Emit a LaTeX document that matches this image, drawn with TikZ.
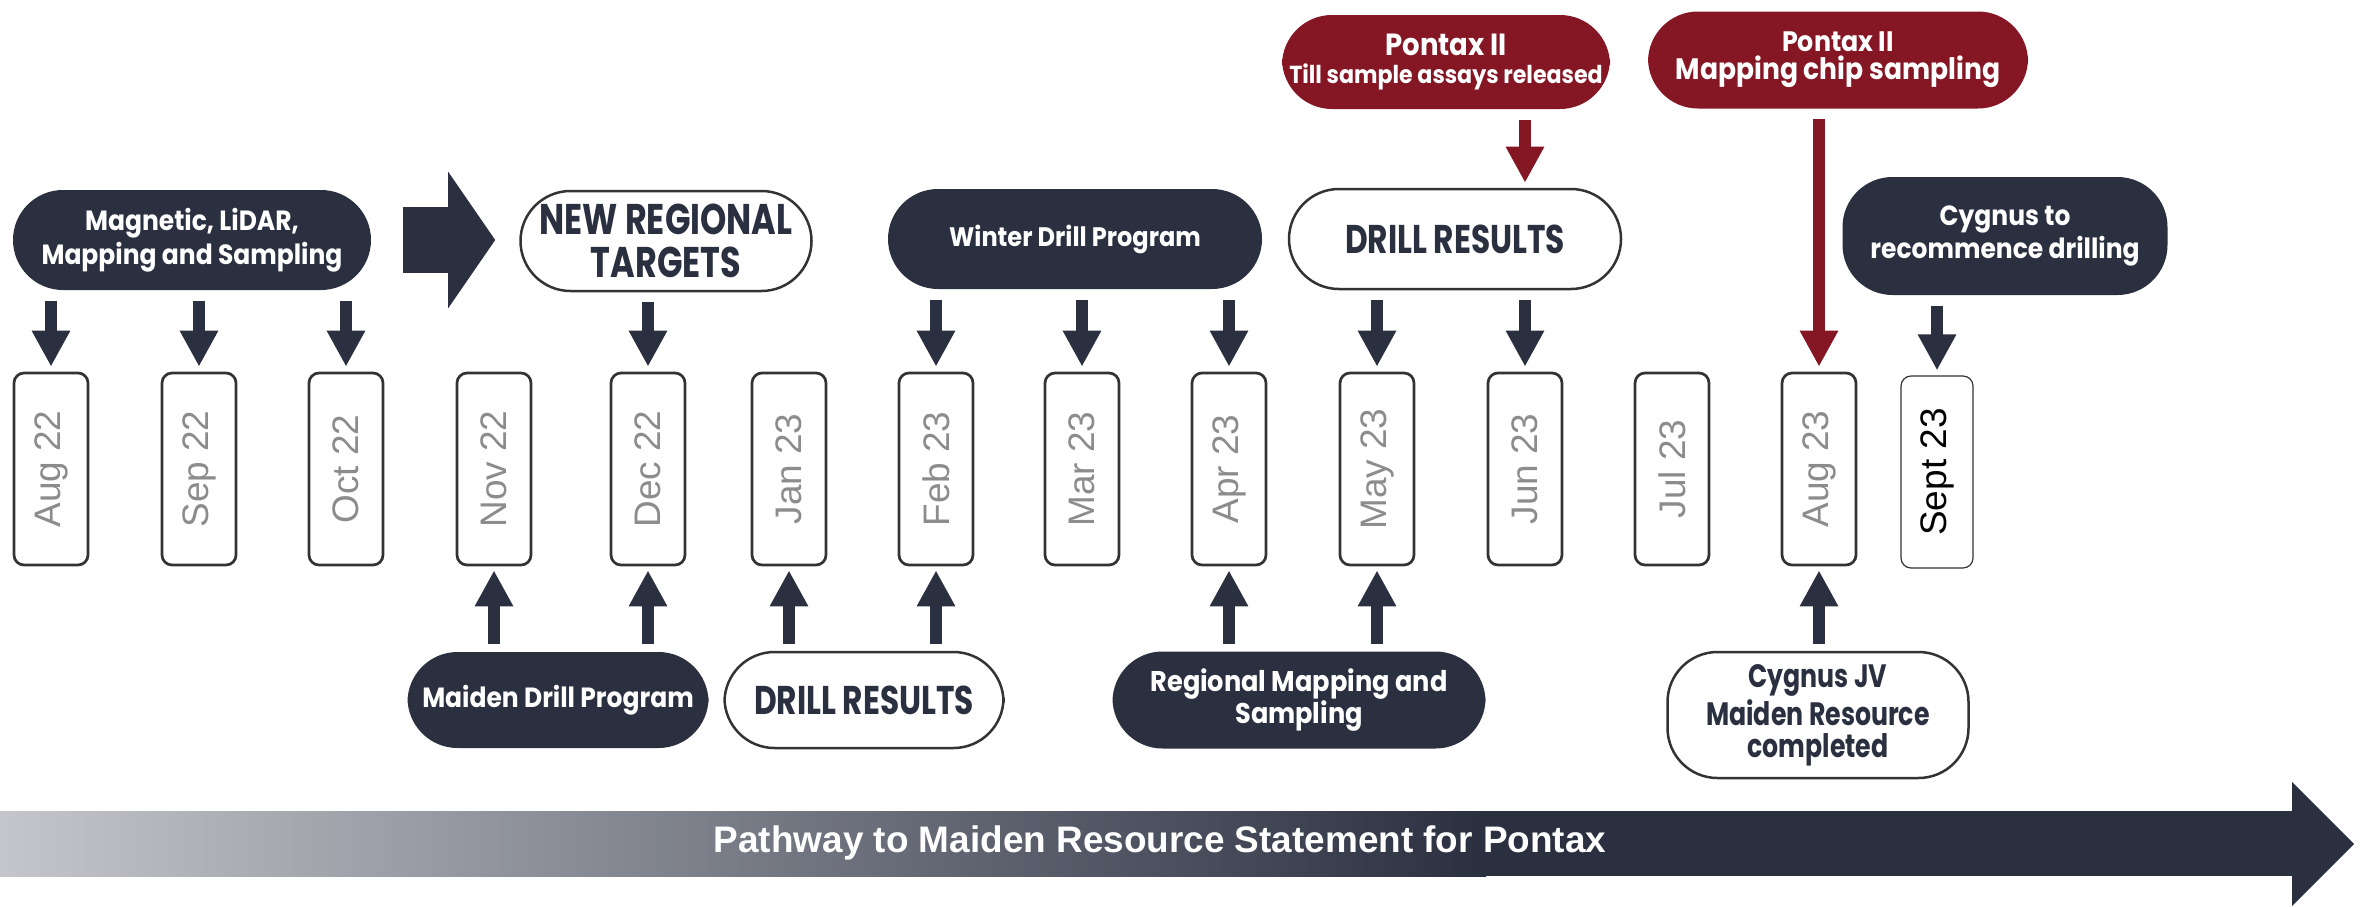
\documentclass[tikz,border=0pt]{standalone}
\usepackage{fontspec}
\usepackage{graphicx}
\usetikzlibrary{arrows.meta}
\setmainfont{Liberation Sans}
\newfontfamily\pillfont[FakeStretch=0.9]{Poppins}
\newfontfamily\capsfont[FakeStretch=0.78]{Poppins}
\definecolor{navy}{HTML}{2B3041}
\definecolor{wine}{HTML}{851624}
\definecolor{monthgray}{HTML}{8C8C8C}
\definecolor{edgegray}{HTML}{333333}
\definecolor{pathlight}{HTML}{C4C6CB}
\newlength\pxu
\setlength\pxu{0.01cm}

\tikzset{
  monthbox/.style={draw=edgegray, line width=2.7\pxu, rounded corners=10\pxu, fill=white,
    minimum width=74\pxu, minimum height=192\pxu, inner sep=0pt, text=monthgray,
    font=\fontsize{10.5}{12}\selectfont},
  pill/.style={rounded corners=50\pxu, inner sep=0pt, align=center},
  darkpill/.style={pill, fill=navy, text=white, font=\pillfont\bfseries\fontsize{7.9}{9.3}\selectfont},
  redpill/.style={pill, fill=wine, text=white, font=\pillfont\bfseries\fontsize{7}{8}\selectfont},
  whitepill/.style={pill, draw=edgegray, line width=2.5\pxu, fill=white, text=navy,
    font=\capsfont\bfseries\fontsize{11.4}{12.5}\selectfont},
  downarr/.style={draw=navy, line width=12\pxu, -{Triangle[length=0.36cm, width=0.36cm]},
    shorten <=10\pxu, shorten >=5\pxu},
  redarr/.style={downarr, draw=wine},
  uparr/.style={downarr, shorten <=7\pxu, shorten >=4\pxu},
  bigarr/.style={draw=navy, line width=66\pxu, -{Triangle[length=0.47cm, width=1.34cm]},
    shorten <=31\pxu, shorten >=24\pxu},
  pathtext/.style={text=white, font=\bfseries\fontsize{10.5}{12}\selectfont, inner sep=0pt}
}

\begin{document}
\begin{tikzpicture}[x=\pxu, y=-\pxu]
\useasboundingbox (0,0) rectangle (2376,906);

% months
\foreach \nm/\xx/\lbl in {aug22/51/Aug 22, sep22/199/Sep 22, oct22/346/Oct 22,
    nov22/494/Nov 22, dec22/648/Dec 22, jan23/789/Jan 23, feb23/936/Feb 23,
    mar23/1082/Mar 23, apr23/1229/Apr 23, may23/1377/May 23, jun23/1525/Jun 23,
    jul23/1672/Jul 23, aug23/1819/Aug 23}
  \node[monthbox] (\nm) at (\xx,469) {\rotatebox{90}{\lbl}};
\node[monthbox, line width=1.2\pxu, text=black, minimum width=72\pxu] (sept23) at (1937,472) {\rotatebox{90}{Sept 23}};

% top row
\node[darkpill, minimum width=358\pxu, minimum height=100\pxu,
  font=\pillfont\bfseries\fontsize{7.9}{9.6}\selectfont] (mag) at (192,240)
  {Magnetic, LiDAR,\\Mapping and Sampling};
\node[whitepill, minimum width=291\pxu, minimum height=100\pxu,
  font=\capsfont\bfseries\fontsize{12.2}{12.4}\selectfont] (nrt) at (666,241)
  {NEW REGIONAL\\TARGETS};
\node[darkpill, minimum width=374\pxu, minimum height=100\pxu,
  font=\pillfont\bfseries\fontsize{7.6}{9}\selectfont] (winter) at (1075,239)
  {Winter Drill Program};
\node[whitepill, minimum width=332\pxu, minimum height=100\pxu] (drtop) at (1455,239)
  {DRILL RESULTS};
\node[darkpill, minimum width=325\pxu, minimum height=118\pxu] (cygnus) at (2005,236)
  {Cygnus to\\recommence drilling};
\node[redpill, minimum width=328\pxu, minimum height=94\pxu] (till) at (1446,62)
  {{\fontsize{8.7}{9}\selectfont Pontax II}\\Till sample assays released};
\node[redpill, minimum width=380\pxu, minimum height=97\pxu] (chip) at (1838,60)
  {{\fontsize{8}{9}\selectfont Pontax II}\\{\fontsize{8.4}{9.5}\selectfont Mapping chip sampling}};

% bottom row
\node[darkpill, minimum width=301\pxu, minimum height=96\pxu] (maiden) at (558,700)
  {Maiden Drill Program};
\node[whitepill, minimum width=279\pxu, minimum height=96\pxu] (drbot) at (864,700)
  {DRILL RESULTS};
\node[darkpill, minimum width=373\pxu, minimum height=97\pxu,
  font=\pillfont\bfseries\fontsize{8.1}{9.2}\selectfont] (regional) at (1299,700)
  {Regional Mapping and\\Sampling};
\node[whitepill, minimum width=301\pxu, minimum height=126\pxu,
  font=\capsfont\bfseries\fontsize{9.2}{8.9}\selectfont] (cjv) at (1818,715)
  {Cygnus JV\\Maiden Resource\\completed};

% arrows down
\foreach \m in {aug22, sep22, oct22}
  \draw[downarr] (\m |- mag.south) -- (\m.north);
\draw[downarr] (dec22 |- nrt.south) -- (dec22.north);
\foreach \m in {feb23, mar23, apr23}
  \draw[downarr] (\m |- winter.south) -- (\m.north);
\foreach \m in {may23, jun23}
  \draw[downarr] (\m |- drtop.south) -- (\m.north);
\draw[downarr] (sept23 |- cygnus.south) -- (sept23.north);
\draw[redarr] (jun23 |- till.south) -- (jun23 |- drtop.north);
\draw[redarr] (aug23 |- chip.south) -- (aug23.north);
\draw[bigarr] (mag.east) -- (mag.east -| nrt.west);

% arrows up
\foreach \m in {nov22, dec22}
  \draw[uparr] (\m |- maiden.north) -- (\m.south);
\foreach \m in {jan23, feb23}
  \draw[uparr] (\m |- drbot.north) -- (\m.south);
\foreach \m in {apr23, may23}
  \draw[uparr] (\m |- regional.north) -- (\m.south);
\draw[uparr] (aug23 |- cjv.north) -- (aug23.south);

% pathway arrow
\shade[left color=pathlight, right color=navy] (0,811) rectangle (1486,876);
\fill[navy] (1485,811) rectangle (2292,876);
\fill[navy] (2292,782) -- (2354,844) -- (2292,906) -- cycle;
\node[pathtext] (pathway) at (1160,843) {Pathway to Maiden Resource Statement for Pontax};
\end{tikzpicture}
\end{document}
